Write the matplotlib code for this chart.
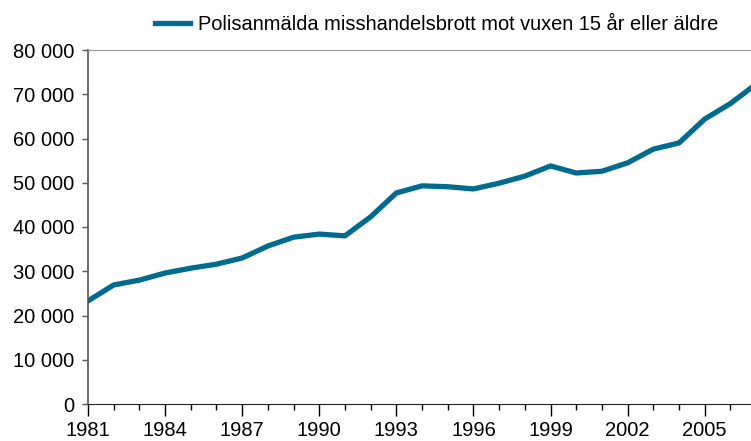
import matplotlib
matplotlib.use("Agg")
import matplotlib.pyplot as plt
from matplotlib.ticker import FuncFormatter, MultipleLocator

plt.rcParams['font.family'] = ['Liberation Sans', 'DejaVu Sans']

# data
years = list(range(1981, 2008))
reported = [23300, 26900, 28000, 29600, 30700, 31600, 33000, 35700, 37700, 38400,
            38000, 42300, 47700, 49300, 49100, 48600, 49900, 51500, 53800, 52200,
            52600, 54500, 57600, 59000, 64400, 67900, 72300]
series_label = "Polisanmälda misshandelsbrott mot vuxen 15 år eller äldre"
year_ticks = list(range(1981, 2006, 3))

fig = plt.figure(figsize=(7.51, 4.41), dpi=100)
ax = fig.add_axes([88 / 751, 37 / 441, 1 - 88 / 751, 354 / 441])

ax.plot(years, reported, color="#006a8f", linewidth=3.8, label=series_label)

ax.set_xlim(1981, 2006.8)
ax.set_ylim(0, 80000)
ax.set_xticks(year_ticks)
ax.xaxis.set_minor_locator(MultipleLocator(1))
ax.yaxis.set_major_locator(MultipleLocator(10000))
# Swedish style thousands separator
ax.yaxis.set_major_formatter(FuncFormatter(lambda v, p: "{:,}".format(int(v)).replace(",", " ")))

ax.tick_params(axis="x", which="major", length=8.5, width=1, direction="out", labelsize=14.5, pad=4)
ax.tick_params(axis="x", which="minor", length=4.3, width=1, direction="out")
ax.tick_params(axis="y", which="major", length=4, width=1, direction="out", labelsize=14.5, pad=6,
               color="#555555")

ax.spines["right"].set_visible(False)
ax.spines["top"].set_color("#999999")
ax.spines["left"].set_color("#555555")
ax.spines["left"].set_linewidth(1.2)
ax.spines["bottom"].set_color("#222222")

fig.legend(loc="center left", bbox_to_anchor=(155 / 751, 1 - 24 / 441), frameon=False,
           fontsize=14.4, handlelength=1.75, handletextpad=0.4, borderpad=0, borderaxespad=0)

plt.savefig("out.png", dpi=100)
plt.close("all")
